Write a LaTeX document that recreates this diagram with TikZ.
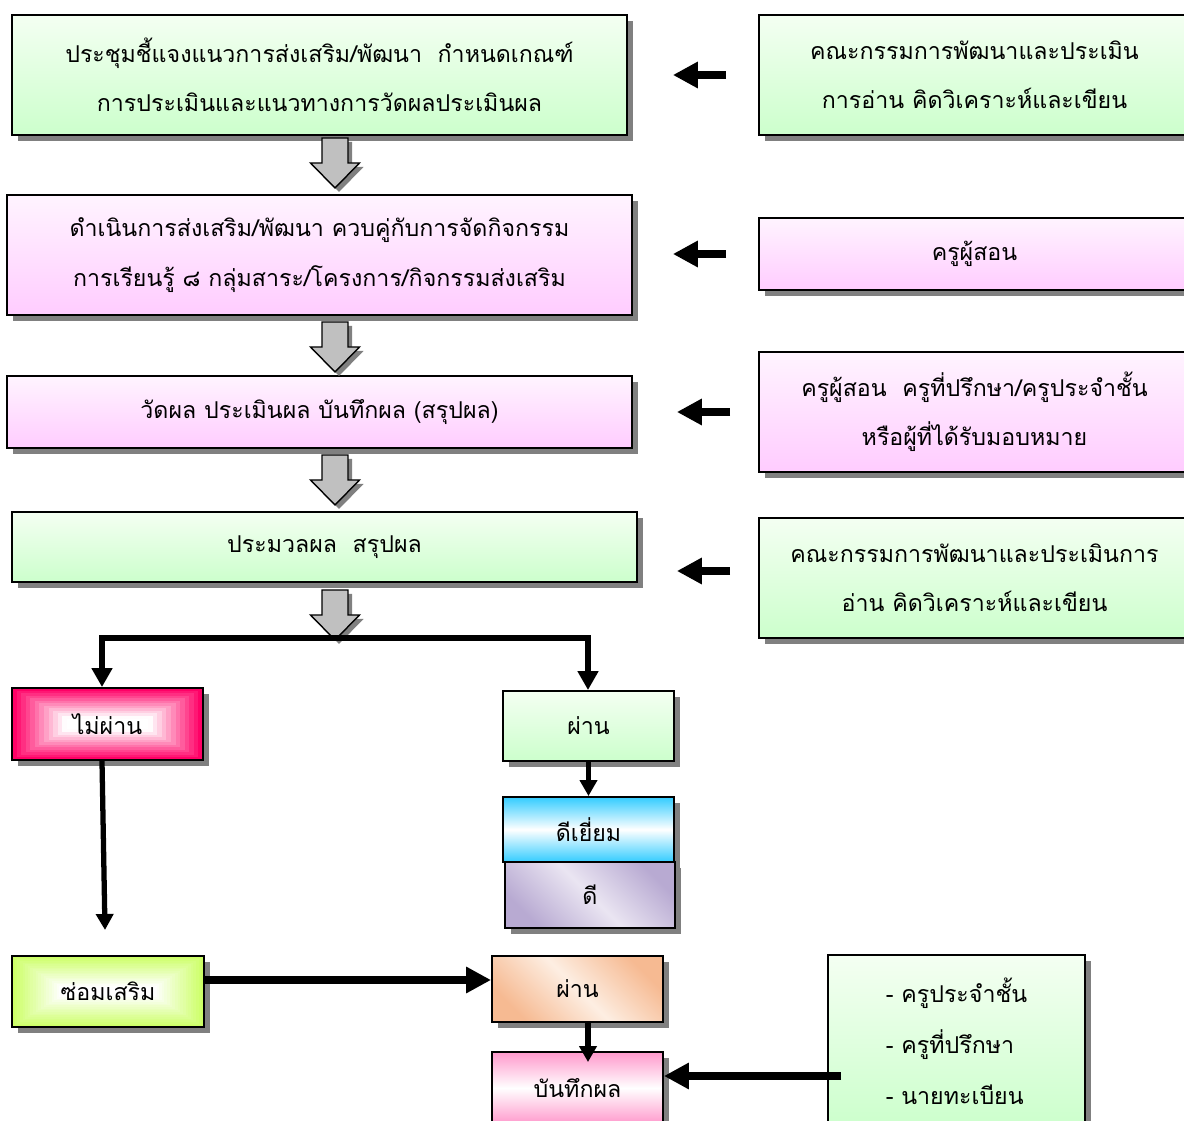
\documentclass[tikz,border=0pt]{standalone}
\usepackage{fontspec}
\newfontfamily\thai[Script=Thai]{Loma}
\usetikzlibrary{arrows.meta,shadows,calc}
\definecolor{gtop}{RGB}{244,255,242}
\definecolor{gbot}{RGB}{204,255,204}
\definecolor{ptop}{RGB}{255,244,255}
\definecolor{pbot}{RGB}{255,204,255}
\definecolor{nfred}{RGB}{255,0,102}
\definecolor{limeg}{RGB}{204,255,102}
\definecolor{cyanb}{RGB}{51,204,255}
\definecolor{lav}{RGB}{234,229,242}
\definecolor{purp}{RGB}{184,170,210}
\definecolor{peachl}{RGB}{253,238,226}
\definecolor{peachd}{RGB}{246,186,146}
\definecolor{pinkb}{RGB}{255,153,204}
\definecolor{shgray}{RGB}{128,128,128}
\definecolor{arrgray}{RGB}{192,192,192}
\begin{document}
\begin{tikzpicture}[x=0.02cm,y=-0.02cm,
  box/.style={draw=black,line width=1.1pt,inner sep=0pt,align=center,
    font={\thai\fontsize{13.2pt}{28pt}\selectfont},
    drop shadow={shadow xshift=0.12cm,shadow yshift=-0.12cm,fill=shgray,opacity=1}},
  gbox/.style={box,top color=gtop,bottom color=gbot},
  pbox/.style={box,top color=ptop,bottom color=pbot},
  concred/.style={box,path picture={
    \foreach \i in {0,...,12}{
      \pgfmathtruncatemacro\pc{max(0,100-9*\i)}
      \fill[nfred!\pc!white] ([xshift=\i*2.6pt,yshift=-\i*1.45pt]path picture bounding box.north west)
        rectangle ([xshift=-\i*2.6pt,yshift=\i*1.45pt]path picture bounding box.south east);
    }}},
  conclime/.style={box,path picture={
    \foreach \i in {0,...,20}{
      \pgfmathtruncatemacro\pc{max(0,100-5.5*\i)}
      \fill[limeg!\pc!white] ([xshift=\i*1.5pt,yshift=-\i*0.95pt]path picture bounding box.north west)
        rectangle ([xshift=-\i*1.5pt,yshift=\i*0.95pt]path picture bounding box.south east);
    }}},
  fat/.style={line width=4.5pt,-{Triangle[length=0.5cm,width=0.5cm]}},
  brarr/.style={line width=3.4pt,-{Triangle[length=0.38cm,width=0.4cm]}},
  smallarr/.style={line width=3pt,-{Triangle[length=0.32cm,width=0.34cm]}},
  blockdown/.pic={
    \fill[shgray] (-9,4) -- (17,4) -- (17,29) -- (28.5,29) -- (4,54) -- (-20.5,29) -- (-9,29) -- cycle;
    \filldraw[fill=arrgray,draw=black,line width=0.8pt] (-13,0) -- (13,0) -- (13,25) -- (24.5,25) -- (0,50) -- (-24.5,25) -- (-13,25) -- cycle;
  }
]
\useasboundingbox (0,0) rectangle (1184,1121);

% main column
\node[gbox,minimum width=12.3cm,minimum height=2.4cm] (b1) at (319.5,75)
  {ประชุมชี้แจงแนวการส่งเสริม/พัฒนา\ \ กำหนดเกณฑ์\\การประเมินและแนวทางการวัดผลประเมินผล};
\node[pbox,minimum width=12.5cm,minimum height=2.4cm] (b2) at (319.5,255)
  {ดำเนินการส่งเสริม/พัฒนา ควบคู่กับการจัดกิจกรรม\\การเรียนรู้ ๘ กลุ่มสาระ/โครงการ/กิจกรรมส่งเสริม};
\node[pbox,minimum width=12.5cm,minimum height=1.44cm] (b3) at (319.5,412)
  {วัดผล ประเมินผล บันทึกผล (สรุปผล)};
\node[gbox,minimum width=12.5cm,minimum height=1.4cm] (b4) at (324.5,547)
  {ประมวลผล\ \ สรุปผล};

% right column
\node[gbox,minimum width=8.62cm,minimum height=2.4cm] (r1) at (974.5,75)
  {คณะกรรมการพัฒนาและประเมิน\\การอ่าน คิดวิเคราะห์และเขียน};
\node[pbox,minimum width=8.62cm,minimum height=1.44cm] (r2) at (974.5,254)
  {ครูผู้สอน};
\node[pbox,minimum width=8.62cm,minimum height=2.4cm] (r3) at (974.5,412)
  {ครูผู้สอน\ \ ครูที่ปรึกษา/ครูประจำชั้น\\หรือผู้ที่ได้รับมอบหมาย};
\node[gbox,minimum width=8.62cm,minimum height=2.4cm] (r4) at (974.5,578)
  {คณะกรรมการพัฒนาและประเมินการ\\อ่าน คิดวิเคราะห์และเขียน};

% left arrows
\draw[fat,shorten <=0.64cm,shorten >=0.9cm] (r1.west) -- (r1.west -| b1.east);
\draw[fat,shorten <=0.64cm,shorten >=0.8cm] (r2.west) -- (r2.west -| b2.east);
\draw[fat,shorten <=0.56cm,shorten >=0.88cm] (r3.west) -- (r3.west -| b3.east);
\draw[fat,shorten <=0.56cm,shorten >=0.78cm] ([yshift=0.14cm]r4.west) -- ([yshift=0.14cm]r4.west -| b4.east);

% block arrows
\pic at (335,138) {blockdown};
\pic at (335,322) {blockdown};
\pic at (335,455) {blockdown};
\pic at (335,590) {blockdown};

% result boxes
\node[concred,minimum width=3.82cm,minimum height=1.44cm] (nf) at (107.5,724) {ไม่ผ่าน};
\node[gbox,minimum width=3.42cm,minimum height=1.4cm] (ps) at (588.5,726) {ผ่าน};
\node[box,top color=cyanb,bottom color=cyanb,middle color=white,minimum width=3.42cm,minimum height=1.3cm] (ex) at (588.5,829.5) {ดีเยี่ยม};
\node[box,top color=purp,bottom color=purp,middle color=lav,shading angle=-45,minimum width=3.4cm,minimum height=1.32cm] (gd) at (590,895) {ดี};
\node[conclime,minimum width=3.84cm,minimum height=1.42cm] (sm) at (108,991.5) {ซ่อมเสริม};
\node[box,top color=peachd,bottom color=peachd,middle color=peachl,shading angle=-45,minimum width=3.42cm,minimum height=1.32cm] (ps2) at (577.5,989) {ผ่าน};
\node[box,top color=pinkb,bottom color=pinkb,middle color=white,minimum width=3.42cm,minimum height=1.44cm] (bt) at (577.5,1088) {บันทึกผล};
\node[gbox,align=left,minimum width=5.14cm,minimum height=3.44cm,font={\thai\fontsize{13.2pt}{29pt}\selectfont}] (rb) at (956.5,1041)
  {- ครูประจำชั้น\\- ครูที่ปรึกษา\\- นายทะเบียน};

% branch
\coordinate (brM) at (335,638);
\coordinate (brL) at (102,638);
\coordinate (brR) at (588,638);
\coordinate (nfend) at (105,930);
\coordinate (y980) at (0,980);
\coordinate (y1076) at (0,1076);
\draw[brarr] (brM) -| (brL |- nf.north);
\draw[brarr] (brM) -| (brR |- ps.north);
\draw[smallarr] (ps.south) -- (ex.north);
\draw[smallarr] (nf.south -| brL) -- (nfend);
\draw[fat] (sm.east |- y980) -- (ps2.west |- y980);
\draw[smallarr,shorten >=-0.22cm] (ps2.south -| brR) -- (bt.north -| brR);
\draw[fat,shorten <=-0.28cm] (rb.west |- y1076) -- (bt.east |- y1076);
\end{tikzpicture}
\end{document}
